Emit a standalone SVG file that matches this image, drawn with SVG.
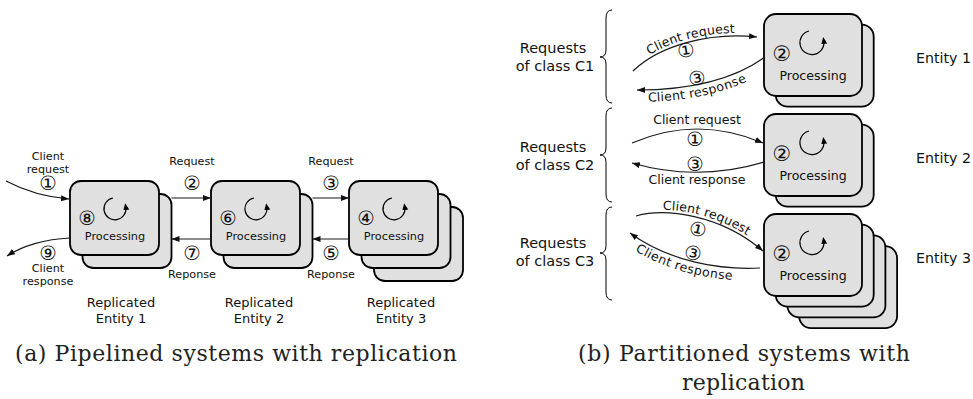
<svg xmlns="http://www.w3.org/2000/svg" width="973" height="399" viewBox="0 0 973 399">
  <style>
    .box { fill: #e0e0e0; stroke: #000; stroke-width: 1.8; }
    .wire { fill: none; stroke: #1a1a1a; stroke-width: 1.2; }
    .spin { fill: none; stroke: #000; stroke-width: 1.2; }
    .brace { fill: none; stroke: #000; stroke-width: 1; }
    text { font-family: "DejaVu Sans", "Noto Sans CJK JP", sans-serif; fill: #111; }
    .s { font-size: 11.2px; text-anchor: middle; }
    .p { font-size: 11.3px; text-anchor: middle; }
    .n { font-size: 19.5px; text-anchor: middle; }
    .rep { font-size: 13px; text-anchor: middle; }
    .pr { font-size: 12.6px; text-anchor: middle; }
    .lb { font-size: 12.5px; }
    .nr { font-size: 21px; text-anchor: middle; }
    .cls { font-size: 14.5px; text-anchor: middle; }
    .ent { font-size: 14.2px; }
    .cap { font-family: "DejaVu Serif", serif; font-size: 22px; fill: #222; }
  </style>
  <defs>
    <marker id="head" markerUnits="userSpaceOnUse" markerWidth="9" markerHeight="7" refX="8" refY="3" orient="auto">
      <path d="M0,0 L8,3 L0,6 z" fill="#111"/>
    </marker>
    <marker id="spinhead" markerUnits="userSpaceOnUse" markerWidth="8" markerHeight="7" refX="3" refY="3" orient="auto">
      <path d="M0,0 L7,3 L0,6 z" fill="#000"/>
    </marker>
    <!-- label paths for the tilted client labels in (b) -->
    <path id="c1req" d="M633,71 C660,45 710,32 757,37"/>
    <path id="c1res" d="M637,90 C700,90 740,75 765,57"/>
    <path id="c3req" d="M636,216 C665,208 720,214 763,251"/>
    <path id="c3res" d="M630,233 C670,262 720,270 760,268"/>
  </defs>

  <!-- (a) pipelined entities -->
  <g id="pipe-entity-1">
    <rect class="box" x="82.5" y="194" width="89" height="74" rx="11"/>
    <rect class="box" x="70" y="181" width="89" height="74" rx="11"/>
    <path class="spin" d="M113.0,198.0 A11,11 0 1 0 125.8,207.1" marker-end="url(#spinhead)"/>
    <text class="n" x="87" y="224.5">⑧</text>
    <text class="p" x="115" y="240">Processing</text>
  </g>
  <g id="pipe-entity-2">
    <rect class="box" x="223.5" y="194" width="89" height="74" rx="11"/>
    <rect class="box" x="211" y="181" width="89" height="74" rx="11"/>
    <path class="spin" d="M254.0,198.0 A11,11 0 1 0 266.8,207.1" marker-end="url(#spinhead)"/>
    <text class="n" x="228" y="224.5">⑥</text>
    <text class="p" x="256" y="240">Processing</text>
  </g>
  <g id="pipe-entity-3">
    <rect class="box" x="374" y="207" width="89" height="74" rx="11"/>
    <rect class="box" x="361.5" y="194" width="89" height="74" rx="11"/>
    <rect class="box" x="349" y="181" width="89" height="74" rx="11"/>
    <path class="spin" d="M392.0,198.0 A11,11 0 1 0 404.8,207.1" marker-end="url(#spinhead)"/>
    <text class="n" x="366" y="224.5">④</text>
    <text class="p" x="394" y="240">Processing</text>
  </g>

  <g id="pipe-connectors">
    <path class="wire" d="M6,181 C25,191 45,197 69,199" marker-end="url(#head)"/>
    <path class="wire" d="M70,238 C45,239 22,246 7,256" marker-end="url(#head)"/>
    <path class="wire" d="M171.5,198 L211,198" marker-end="url(#head)"/>
    <path class="wire" d="M211,239 L171.5,239" marker-end="url(#head)"/>
    <path class="wire" d="M312.5,198 L349,198" marker-end="url(#head)"/>
    <path class="wire" d="M349,239 L312.5,239" marker-end="url(#head)"/>
  </g>

  <g id="pipe-labels">
    <text class="s" x="48" y="160">Client</text>
    <text class="s" x="48" y="173">request</text>
    <text class="n" x="48" y="189.5">①</text>
    <text class="n" x="48" y="259.5">⑨</text>
    <text class="s" x="48" y="272">Client</text>
    <text class="s" x="48" y="285">response</text>
    <text class="s" x="192" y="165">Request</text>
    <text class="n" x="192" y="189.5">②</text>
    <text class="n" x="192" y="259.5">⑦</text>
    <text class="s" x="192" y="278">Reponse</text>
    <text class="s" x="331" y="165">Request</text>
    <text class="n" x="331" y="189.5">③</text>
    <text class="n" x="331" y="259.5">⑤</text>
    <text class="s" x="331" y="278">Reponse</text>
    <text class="rep" x="121" y="307">Replicated</text>
    <text class="rep" x="121" y="323">Entity 1</text>
    <text class="rep" x="259" y="307">Replicated</text>
    <text class="rep" x="259" y="323">Entity 2</text>
    <text class="rep" x="401" y="307">Replicated</text>
    <text class="rep" x="401" y="323">Entity 3</text>
  </g>

  <text class="cap" x="15" y="361" textLength="442">(a) Pipelined systems with replication</text>

  <!-- (b) partitioned entities -->
  <g id="part-entity-1">
    <rect class="box" x="775.7" y="24.7" width="98" height="82" rx="12"/>
    <rect class="box" x="764" y="14" width="98" height="82" rx="12"/>
    <path class="spin" d="M809.0,31.0 A12,12 0 1 0 823.8,40.9" marker-end="url(#spinhead)"/>
    <text class="nr" x="782" y="60.5">②</text>
    <text class="pr" x="813" y="80">Processing</text>
  </g>
  <g id="part-entity-2">
    <rect class="box" x="775.7" y="124.7" width="98" height="82" rx="12"/>
    <rect class="box" x="764" y="114" width="98" height="82" rx="12"/>
    <path class="spin" d="M809.0,131.0 A12,12 0 1 0 823.8,140.9" marker-end="url(#spinhead)"/>
    <text class="nr" x="782" y="160.5">②</text>
    <text class="pr" x="813" y="180">Processing</text>
  </g>
  <g id="part-entity-3">
    <rect class="box" x="799.1" y="246.1" width="98" height="82" rx="12"/>
    <rect class="box" x="787.4" y="235.4" width="98" height="82" rx="12"/>
    <rect class="box" x="775.7" y="224.7" width="98" height="82" rx="12"/>
    <rect class="box" x="764" y="214" width="98" height="82" rx="12"/>
    <path class="spin" d="M809.0,231.0 A12,12 0 1 0 823.8,240.9" marker-end="url(#spinhead)"/>
    <text class="nr" x="782" y="260.5">②</text>
    <text class="pr" x="813" y="280">Processing</text>
  </g>

  <g id="part-braces">
    <path class="brace" d="M612,10 Q606,10 606,18 L606,50 Q606,57 600,57 Q606,57 606,64 L606,95 Q606,103 612,103"/>
    <path class="brace" d="M612,108 Q606,108 606,116 L606,148 Q606,155 600,155 Q606,155 606,162 L606,194 Q606,202 612,202"/>
    <path class="brace" d="M612,207 Q606,207 606,215 L606,246 Q606,253 600,253 Q606,253 606,260 L606,292 Q606,300 612,300"/>
  </g>

  <g id="part-connectors">
    <path class="wire" d="M633,71 C660,45 710,32 757,37" marker-end="url(#head)"/>
    <path class="wire" d="M765,57 C740,75 700,90 637,90" marker-end="url(#head)"/>
    <path class="wire" d="M632,143 Q697,115 763,143" marker-end="url(#head)"/>
    <path class="wire" d="M764,162 Q697,182 632,163" marker-end="url(#head)"/>
    <path class="wire" d="M636,216 C665,208 720,214 763,251" marker-end="url(#head)"/>
    <path class="wire" d="M760,268 C720,270 670,262 630,233" marker-end="url(#head)"/>
  </g>

  <g id="part-labels">
    <text class="lb" dy="-3"><textPath href="#c1req" startOffset="50%" text-anchor="middle">Client request</textPath></text>
    <text class="n" x="686" y="57" transform="rotate(-10 686 50)">①</text>
    <text class="n" x="697" y="85" transform="rotate(-10 697 78)">③</text>
    <text class="lb" dy="12"><textPath href="#c1res" startOffset="44%" text-anchor="middle">Client response</textPath></text>

    <text class="lb" x="697" y="124" text-anchor="middle">Client request</text>
    <text class="n" x="695" y="145.5">①</text>
    <text class="n" x="695" y="171">③</text>
    <text class="lb" x="697" y="184" text-anchor="middle">Client response</text>

    <text class="lb" dy="-3"><textPath href="#c3req" startOffset="52%" text-anchor="middle">Client request</textPath></text>
    <text class="n" x="698" y="236" transform="rotate(14 698 229)">①</text>
    <text class="n" x="693" y="260" transform="rotate(12 693 253)">③</text>
    <text class="lb" dy="12"><textPath href="#c3res" startOffset="45%" text-anchor="middle">Client response</textPath></text>

    <text class="cls" x="553" y="53">Requests</text>
    <text class="cls" x="555" y="71">of class C1</text>
    <text class="cls" x="553" y="152">Requests</text>
    <text class="cls" x="555" y="170">of class C2</text>
    <text class="cls" x="553" y="248">Requests</text>
    <text class="cls" x="555" y="266">of class C3</text>

    <text class="ent" x="916" y="63">Entity 1</text>
    <text class="ent" x="916" y="163">Entity 2</text>
    <text class="ent" x="916" y="263">Entity 3</text>
  </g>

  <text class="cap" x="578" y="361" textLength="332">(b) Partitioned systems with</text>
  <text class="cap" x="682" y="390" textLength="123">replication</text>
</svg>
